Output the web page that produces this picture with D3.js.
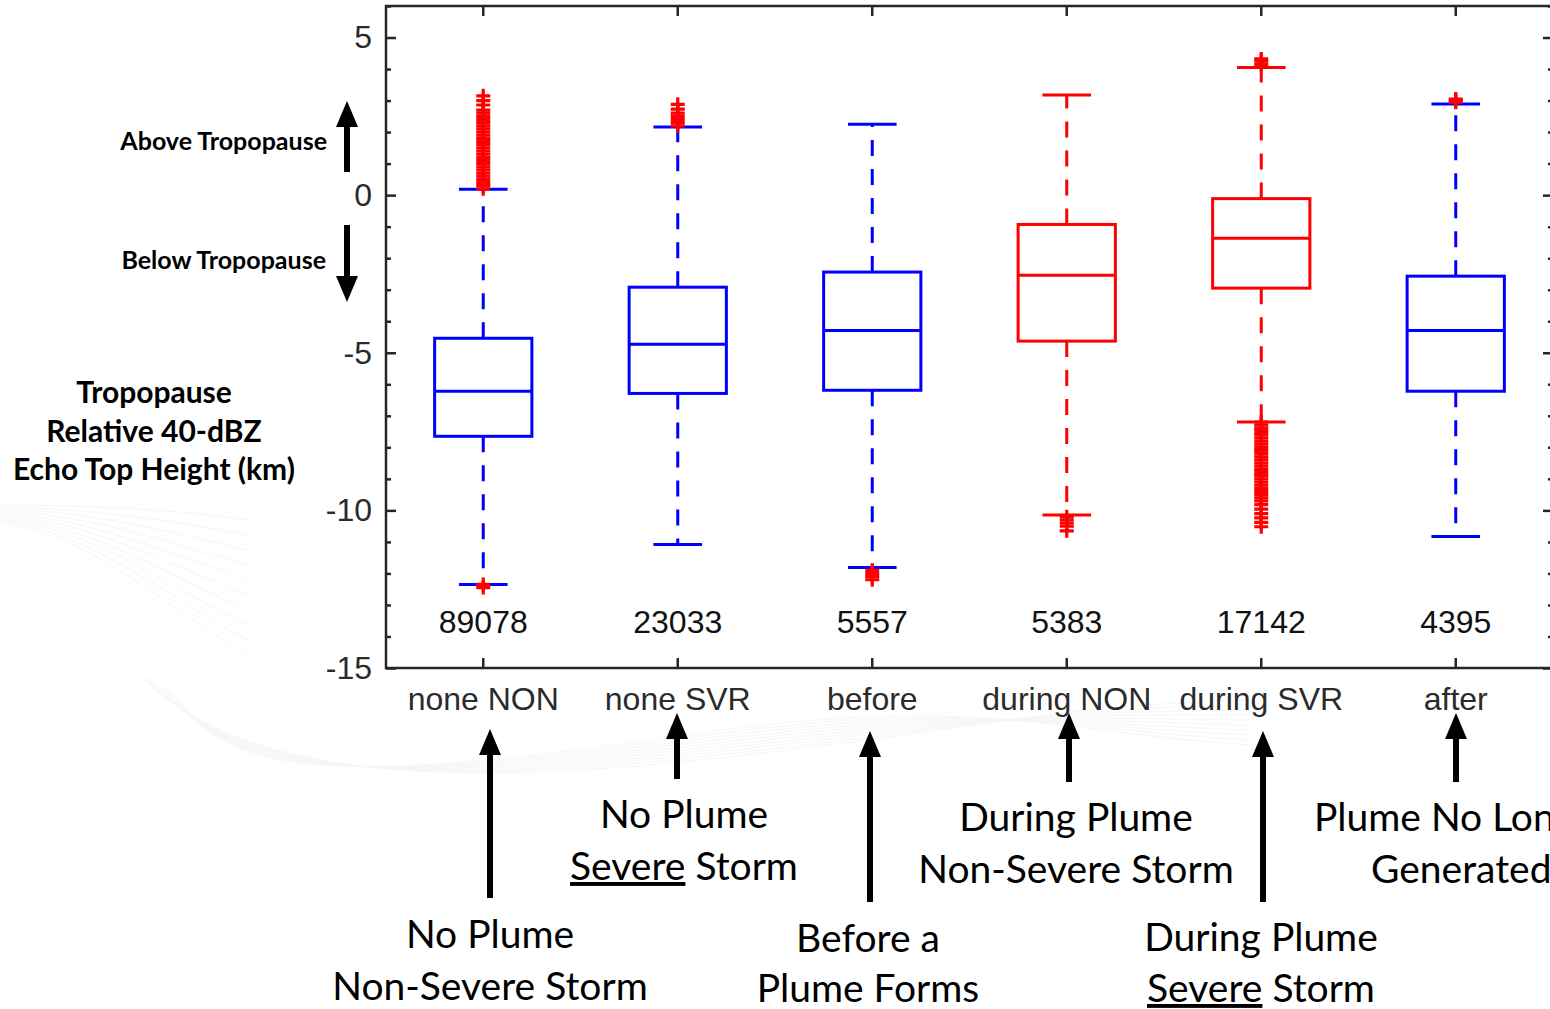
<!DOCTYPE html>
<html>
<head>
<meta charset="utf-8">
<script src="https://cdn.jsdelivr.net/npm/d3@7"></script>
<style>
  body { margin: 0; background: #fff; }
  svg { display: block; }
</style>
</head>
<body>
<div id="chart"></div>
<script>
// categories and box statistics
var categories = ["none NON", "none SVR", "before", "during NON", "during SVR", "after"];
var counts = ["89078", "23033", "5557", "5383", "17142", "4395"];
var boxColors = ["#0000ff", "#0000ff", "#0000ff", "#ff0000", "#ff0000", "#0000ff"];
var whiskerHigh = [0.19, 2.16, 2.25, 3.18, 4.05, 2.89];
var q3 = [-4.54, -2.92, -2.44, -0.93, -0.11, -2.57];
var medians = [-6.22, -4.73, -4.29, -2.54, -1.37, -4.29];
var q1 = [-7.65, -6.29, -6.19, -4.63, -2.95, -6.22];
var whiskerLow = [-12.35, -11.08, -11.81, -10.15, -7.2, -10.83];
var outliers = [
  [0.2, 0.3, 0.4, 0.5, 0.6, 0.7, 0.8, 0.9, 1.0, 1.1, 1.2, 1.3, 1.4, 1.5, 1.6, 1.7, 1.8, 1.9,
   2.0, 2.1, 2.2, 2.3, 2.4, 2.5, 2.6, 2.7, 2.86, 3.0, 3.15, -12.35, -12.45],
  [2.2, 2.3, 2.4, 2.5, 2.6, 2.73, 2.88],
  [-11.9, -12.0, -12.1, -12.2],
  [-10.2, -10.3, -10.4, -10.5, -10.65],
  [4.15, 4.25, 4.32, -7.2, -7.3, -7.4, -7.5, -7.6, -7.7, -7.8, -7.9, -8.0, -8.1, -8.2, -8.3,
   -8.4, -8.5, -8.6, -8.7, -8.8, -8.9, -9.0, -9.1, -9.2, -9.3, -9.4, -9.5, -9.6, -9.7,
   -9.82, -9.96, -10.1, -10.24, -10.38, -10.52],
  [2.95, 3.0, 3.05]
];
var yMajorTicks = [-15, -10, -5, 0, 5];
var yMinorTicks = [-14, -13, -12, -11, -9, -8, -7, -6, -4, -3, -2, -1, 1, 2, 3, 4, 6];

// slide annotations (arrows and captions round the plot)
var arrows = [
  {x: 490, tip: 729, tail: 898},
  {x: 677, tip: 713, tail: 779},
  {x: 870, tip: 731, tail: 902},
  {x: 1069, tip: 713, tail: 782},
  {x: 1263, tip: 731, tail: 902},
  {x: 1456, tip: 713, tail: 782},
  {x: 347, tip: 101, tail: 172},
  {x: 347, tip: 302, tail: 225}
];
var captions = [
  {x: 490, y: 948, anchor: "middle", parts: [["No Plume", false]]},
  {x: 490, y: 1000, anchor: "middle", parts: [["Non-Severe Storm", false]]},
  {x: 684, y: 828, anchor: "middle", parts: [["No Plume", false]]},
  {x: 684, y: 880, anchor: "middle", parts: [["Severe", true], [" Storm", false]]},
  {x: 868, y: 952, anchor: "middle", parts: [["Before a", false]]},
  {x: 868, y: 1002, anchor: "middle", parts: [["Plume Forms", false]]},
  {x: 1076, y: 831, anchor: "middle", parts: [["During Plume", false]]},
  {x: 1076, y: 883, anchor: "middle", parts: [["Non-Severe Storm", false]]},
  {x: 1261, y: 951, anchor: "middle", parts: [["During Plume", false]]},
  {x: 1261, y: 1002, anchor: "middle", parts: [["Severe", true], [" Storm", false]]},
  {x: 1314, y: 831, anchor: "start", parts: [["Plume No Longer", false]]},
  {x: 1371, y: 883, anchor: "start", parts: [["Generated", false]]}
];

var width = 1550, height = 1009;
var plot = {left: 386, right: 1553, top: 6, bottom: 668};
var axisColor = "#262626";

var svg = d3.select("#chart").append("svg")
  .attr("width", width)
  .attr("height", height);

svg.append("rect").attr("width", width).attr("height", height).attr("fill", "#fff");

// faint template swoosh in the background
var swoosh = svg.append("g").attr("fill", "none").attr("stroke", "#f1f1f1").attr("stroke-width", 1).attr("opacity", 0.6);
for (var k = 0; k < 10; k++) {
  swoosh.append("path")
    .attr("d", "M0," + (505 + k * 2) + " C90," + (505 + k * 3) + " 180," + (510 + k * 12) + " 248," + (520 + k * 15));
  swoosh.append("path")
    .attr("d", "M" + (140 + k * 4) + "," + (675 + k * 2) + " C230," + (770 + k * 3) + " 420," + (790 - k * 2) +
      " 700," + (760 - k * 3) + " S1050," + (705 + k * 3) + " 1250," + (700 + k * 5));
}

var x = d3.scaleBand().domain(categories).range([plot.left, plot.right]);
var y = d3.scaleLinear().domain([-15, 6]).range([plot.bottom, plot.top]);
var bw = x.bandwidth();
function cx(c) { return x(c) + bw / 2; }

// frame
svg.append("rect")
  .attr("x", plot.left).attr("y", plot.top)
  .attr("width", plot.right - plot.left).attr("height", plot.bottom - plot.top)
  .attr("fill", "none").attr("stroke", axisColor).attr("stroke-width", 2.5);

// y axis left
var yLeft = svg.append("g")
  .attr("transform", "translate(" + plot.left + ",0)")
  .call(d3.axisLeft(y).tickValues(yMajorTicks).tickSizeInner(-10).tickSizeOuter(0).tickPadding(14)
    .tickFormat(function(d) { return String(d); }));
yLeft.append("g").call(d3.axisLeft(y).tickValues(yMinorTicks).tickSizeInner(-5).tickSizeOuter(0).tickFormat(""));

// y axis right
var yRight = svg.append("g")
  .attr("transform", "translate(" + plot.right + ",0)")
  .call(d3.axisRight(y).tickValues(yMajorTicks).tickSizeInner(-10).tickSizeOuter(0).tickFormat(""));
yRight.append("g").call(d3.axisRight(y).tickValues(yMinorTicks).tickSizeInner(-5).tickSizeOuter(0).tickFormat(""));

// x axes
var xBottom = svg.append("g")
  .attr("transform", "translate(0," + plot.bottom + ")")
  .call(d3.axisBottom(x).tickSizeInner(-10).tickSizeOuter(0).tickPadding(19));
var xTop = svg.append("g")
  .attr("transform", "translate(0," + plot.top + ")")
  .call(d3.axisTop(x).tickSizeInner(-10).tickSizeOuter(0).tickFormat(""));

[yLeft, yRight, xBottom, xTop].forEach(function(g) {
  g.selectAll(".domain").remove();
  g.selectAll("line").attr("stroke", axisColor).attr("stroke-width", 2.5);
  g.selectAll("text")
    .attr("fill", "#2b2b2b")
    .attr("font-family", "'Liberation Sans', Arial, sans-serif")
    .attr("font-size", 32);
});

// boxes
var boxes = categories.map(function(c, i) {
  return {cat: c, color: boxColors[i], hi: whiskerHigh[i], q3: q3[i], med: medians[i],
          q1: q1[i], lo: whiskerLow[i], out: outliers[i], n: counts[i]};
});

var bg = svg.selectAll(".box")
  .data(boxes)
  .enter().append("g")
    .attr("class", "box");

bg.each(function(d) {
  var g = d3.select(this);
  var c = cx(d.cat);
  // whiskers
  g.append("line")
    .attr("x1", c).attr("x2", c).attr("y1", y(d.q3)).attr("y2", y(d.hi))
    .attr("stroke", d.color).attr("stroke-width", 3).attr("stroke-dasharray", "16,13");
  g.append("line")
    .attr("x1", c).attr("x2", c).attr("y1", y(d.q1)).attr("y2", y(d.lo))
    .attr("stroke", d.color).attr("stroke-width", 3).attr("stroke-dasharray", "16,13");
  // caps
  [d.hi, d.lo].forEach(function(v) {
    g.append("line")
      .attr("x1", c - bw / 8).attr("x2", c + bw / 8).attr("y1", y(v)).attr("y2", y(v))
      .attr("stroke", d.color).attr("stroke-width", 3);
  });
  // box and median
  g.append("rect")
    .attr("x", c - bw / 4).attr("width", bw / 2)
    .attr("y", y(d.q3)).attr("height", y(d.q1) - y(d.q3))
    .attr("fill", "none").attr("stroke", d.color).attr("stroke-width", 3);
  g.append("line")
    .attr("x1", c - bw / 4).attr("x2", c + bw / 4).attr("y1", y(d.med)).attr("y2", y(d.med))
    .attr("stroke", d.color).attr("stroke-width", 3);
  // outliers
  g.selectAll(".out")
    .data(d.out)
    .enter().append("path")
      .attr("class", "out")
      .attr("d", function(v) { return "M" + (c - 7) + "," + y(v) + "H" + (c + 7) + "M" + c + "," + (y(v) - 7) + "V" + (y(v) + 7); })
      .attr("stroke", "#ff0000").attr("stroke-width", 3.2).attr("fill", "none");
  // sample count
  g.append("text")
    .attr("x", c).attr("y", 633)
    .attr("text-anchor", "middle")
    .attr("font-family", "'Liberation Sans', Arial, sans-serif")
    .attr("font-size", 32)
    .attr("fill", "#111")
    .text(d.n);
});

// y axis title and tropopause notes
var yTitle = ["Tropopause", "Relative 40-dBZ", "Echo Top Height (km)"];
svg.selectAll(".ytitle")
  .data(yTitle)
  .enter().append("text")
    .attr("class", "ytitle")
    .attr("x", 154)
    .attr("y", function(d, i) { return 403 + i * 38.5; })
    .attr("text-anchor", "middle")
    .attr("font-family", "Lato, sans-serif")
    .attr("font-weight", "bold")
    .attr("font-size", 30)
    .text(function(d) { return d; });

svg.append("text")
  .attr("x", 327).attr("y", 150)
  .attr("text-anchor", "end")
  .attr("font-family", "Lato, sans-serif").attr("font-weight", "bold").attr("font-size", 25)
  .text("Above Tropopause");
svg.append("text")
  .attr("x", 326).attr("y", 269)
  .attr("text-anchor", "end")
  .attr("font-family", "Lato, sans-serif").attr("font-weight", "bold").attr("font-size", 25)
  .text("Below Tropopause");

// arrows
svg.selectAll(".arrow")
  .data(arrows)
  .enter().append("path")
    .attr("class", "arrow")
    .attr("fill", "#000")
    .attr("d", function(a) {
      var dir = a.tail > a.tip ? 1 : -1;
      var headLen = 26 * dir, hw = 11, sw = 3;
      return "M" + a.x + "," + a.tip +
        "L" + (a.x + hw) + "," + (a.tip + headLen) +
        "L" + (a.x + sw) + "," + (a.tip + headLen) +
        "L" + (a.x + sw) + "," + a.tail +
        "L" + (a.x - sw) + "," + a.tail +
        "L" + (a.x - sw) + "," + (a.tip + headLen) +
        "L" + (a.x - hw) + "," + (a.tip + headLen) + "Z";
    });

// captions
svg.selectAll(".caption")
  .data(captions)
  .enter().append("text")
    .attr("class", "caption")
    .attr("x", function(d) { return d.x; })
    .attr("y", function(d) { return d.y; })
    .attr("text-anchor", function(d) { return d.anchor; })
    .attr("font-family", "Lato, sans-serif")
    .attr("font-size", 39)
    .attr("fill", "#000")
    .each(function(d) {
      var t = d3.select(this);
      d.parts.forEach(function(p) {
        t.append("tspan")
          .style("text-decoration", p[1] ? "underline" : null)
          .style("white-space", "pre")
          .text(p[0]);
      });
    });
</script>
</body>
</html>
